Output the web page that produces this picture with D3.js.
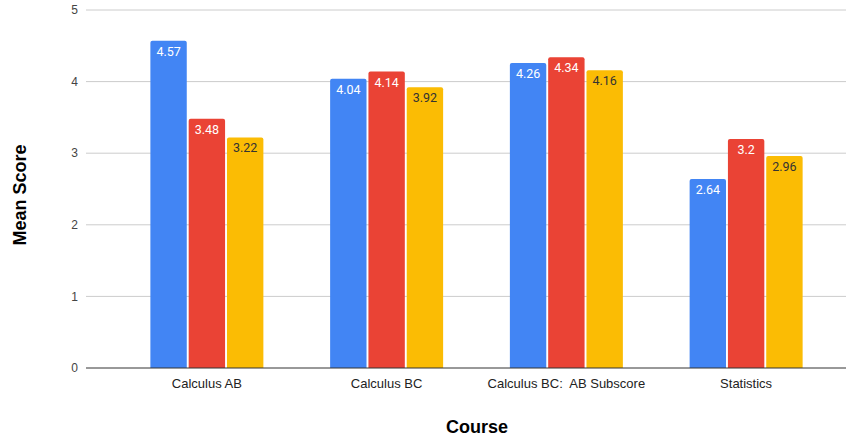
<!DOCTYPE html>
<html>
<head>
<meta charset="utf-8">
<script src="https://cdn.jsdelivr.net/npm/d3@7"></script>
<style>
  body { margin: 0; background: #fff; }
  text { font-family: "Liberation Sans", Arial, sans-serif; }
  .val { font-family: Roboto, "Liberation Sans", sans-serif; }
</style>
</head>
<body>
<div id="chart"></div>
<script>
// Data
const courses = ["Calculus AB", "Calculus BC", "Calculus BC:  AB Subscore", "Statistics"];
const seriesNames = ["s1", "s2", "s3"];
const blueVals = [4.57, 4.04, 4.26, 2.64];
const redVals = [3.48, 4.14, 4.34, 3.2];
const yellowVals = [3.22, 3.92, 4.16, 2.96];
const yTicks = [0, 1, 2, 3, 4, 5];

const colors = ["#4285f4", "#ea4335", "#fbbc04"];
const labelColors = ["#fff", "#fff", "#333"];

const W = 846, H = 436;
const gridLeft = 86, gridRight = 846;
const plotTop = 10, plotBottom = 368;
const groupW = 113;

const svg = d3.select("#chart").append("svg")
    .attr("width", W).attr("height", H);

const y = d3.scaleLinear().domain([0, 5]).range([plotBottom, plotTop]);
const x = d3.scaleBand().domain(courses).range([117, 836]);
const xs = d3.scaleBand().domain(seriesNames).range([0, groupW]).paddingInner(0.05);

// Gridlines
svg.append("g").selectAll("line")
    .data(yTicks.filter(d => d > 0))
    .enter().append("line")
    .attr("x1", gridLeft).attr("x2", gridRight)
    .attr("y1", d => y(d)).attr("y2", d => y(d))
    .attr("stroke", "#cccccc").attr("stroke-width", 1);

// Y tick labels
svg.append("g").selectAll("text")
    .data(yTicks)
    .enter().append("text")
    .attr("x", 78).attr("y", d => y(d))
    .attr("dy", "0.35em")
    .attr("text-anchor", "end")
    .style("font-size", "12px").style("fill", "#444")
    .text(d => d);

// Bars
const rows = courses.map((c, i) => ({
    course: c,
    vals: [blueVals[i], redVals[i], yellowVals[i]]
}));

const group = svg.append("g").selectAll("g")
    .data(rows)
    .enter().append("g")
    .attr("transform", d => `translate(${x(d.course) + (x.bandwidth() - groupW) / 2},0)`);

const bar = group.selectAll("g")
    .data(d => d.vals.map((v, j) => ({ v, j })))
    .enter().append("g");

bar.append("path")
    .attr("d", d => {
        const x0 = xs(seriesNames[d.j]), w = xs.bandwidth();
        const yt = y(d.v), r = 2;
        return `M${x0},${plotBottom}V${yt + r}Q${x0},${yt} ${x0 + r},${yt}H${x0 + w - r}Q${x0 + w},${yt} ${x0 + w},${yt + r}V${plotBottom}Z`;
    })
    .attr("fill", d => colors[d.j]);

bar.append("text")
    .attr("class", "val")
    .attr("x", d => xs(seriesNames[d.j]) + xs.bandwidth() / 2)
    .attr("y", d => y(d.v) + 15)
    .attr("text-anchor", "middle")
    .style("font-size", "12.5px")
    .style("fill", d => labelColors[d.j])
    .text(d => d.v);

// Baseline
svg.append("line")
    .attr("x1", gridLeft).attr("x2", gridRight)
    .attr("y1", plotBottom).attr("y2", plotBottom)
    .attr("stroke", "#333").attr("stroke-width", 1);

// X labels
svg.append("g").selectAll("text")
    .data(courses)
    .enter().append("text")
    .attr("x", d => x(d) + x.bandwidth() / 2)
    .attr("y", 388)
    .attr("text-anchor", "middle")
    .style("font-size", "13px").style("fill", "#222")
    .style("white-space", "pre")
    .text(d => d);

// Axis titles
svg.append("text")
    .attr("x", 477).attr("y", 433)
    .attr("text-anchor", "middle")
    .style("font-size", "18px").style("font-weight", "bold").style("fill", "#000")
    .text("Course");

svg.append("text")
    .attr("transform", `translate(26,195) rotate(-90)`)
    .attr("text-anchor", "middle")
    .style("font-size", "18px").style("font-weight", "bold").style("fill", "#000")
    .text("Mean Score");
</script>
</body>
</html>
